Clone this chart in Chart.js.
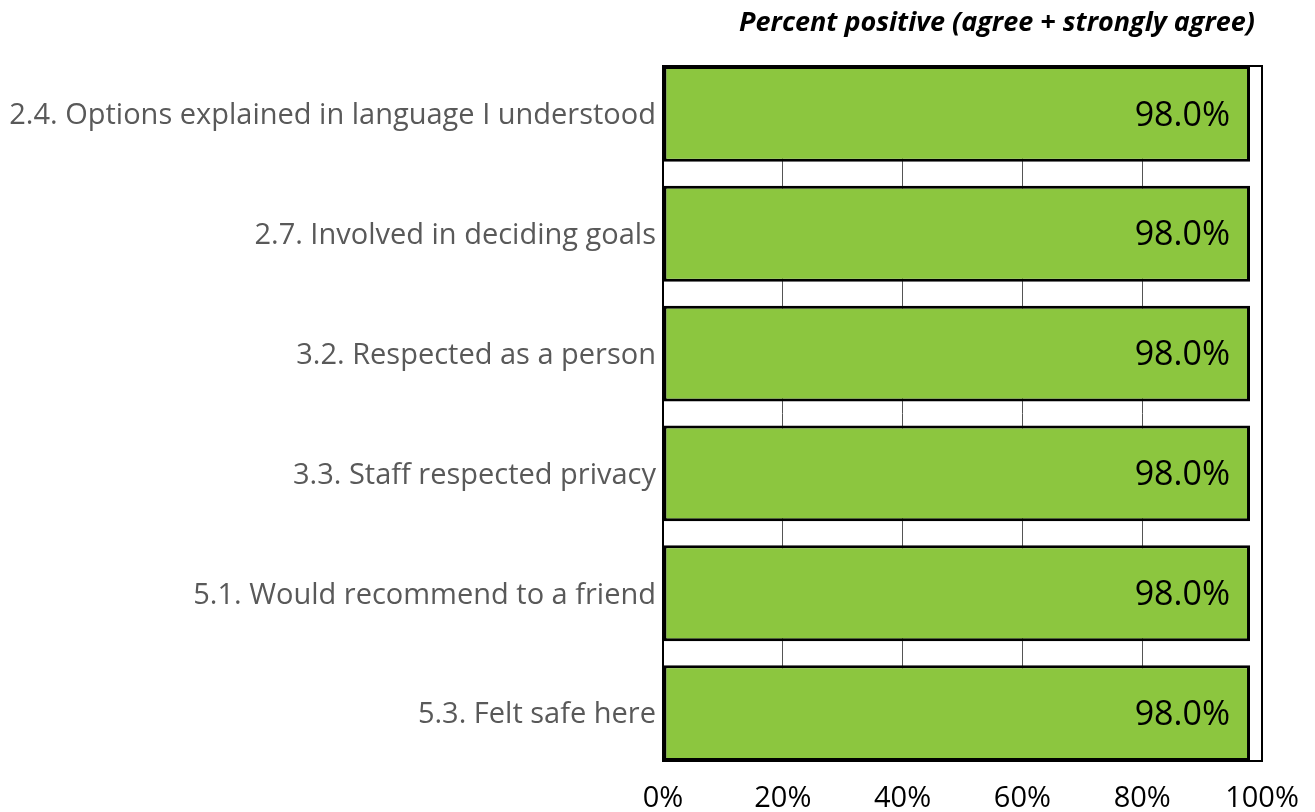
<!DOCTYPE html>
<html>
<head>
<meta charset="utf-8">
<script src="https://cdn.jsdelivr.net/npm/chart.js@4.4.1/dist/chart.umd.min.js"></script>
<style>
  html, body { margin: 0; padding: 0; background: #fff; }
  #wrap { width: 1315px; height: 812px; }
</style>
</head>
<body>
<div id="wrap"><canvas id="c" width="1315" height="812"></canvas></div>
<script>
const titleText = 'Percent positive (agree + strongly agree)';
const categories = [
  '2.4. Options explained in language I understood',
  '2.7. Involved in deciding goals',
  '3.2. Respected as a person',
  '3.3. Staff respected privacy',
  '5.1. Would recommend to a friend',
  '5.3. Felt safe here'
];
const percentPositive = [98.0, 98.0, 98.0, 98.0, 98.0, 98.0];
const xTicks = [0, 20, 40, 60, 80, 100];

const FONT = "'Open Sans', 'Noto Sans', sans-serif";

// Title, value labels and the plot frame
const decorations = {
  id: 'decorations',
  afterDatasetsDraw(chart) {
    const ctx = chart.ctx;
    const meta = chart.getDatasetMeta(0);
    ctx.save();
    ctx.font = `34px ${FONT}`;
    ctx.fillStyle = '#000';
    ctx.textAlign = 'right';
    ctx.textBaseline = 'middle';
    meta.data.forEach((bar, i) => {
      ctx.fillText(percentPositive[i].toFixed(1) + '%', bar.x - 20, bar.y + 2);
    });
    ctx.restore();
  },
  afterDraw(chart) {
    const ctx = chart.ctx;
    const a = chart.chartArea;
    ctx.save();
    ctx.strokeStyle = '#000';
    ctx.lineWidth = 2;
    ctx.strokeRect(a.left, a.top, a.right - a.left, a.bottom - a.top);
    ctx.font = `italic bold 27px ${FONT}`;
    ctx.fillStyle = '#000';
    ctx.textAlign = 'right';
    ctx.textBaseline = 'middle';
    ctx.fillText(titleText, 1255, 23);
    ctx.restore();
  }
};

new Chart(document.getElementById('c'), {
  type: 'bar',
  data: {
    datasets: [{
      data: percentPositive.map((v, i) => ({ x: v, y: i })),
      backgroundColor: '#8CC63F',
      borderColor: '#000',
      borderWidth: 3,
      borderSkipped: false,
      categoryPercentage: 0.8,
      barPercentage: 1.0
    }]
  },
  options: {
    indexAxis: 'y',
    responsive: false,
    animation: false,
    devicePixelRatio: 1,
    layout: { padding: { top: 66, right: 53, left: 0, bottom: 0 } },
    plugins: { legend: { display: false }, title: { display: false }, tooltip: { enabled: false } },
    scales: {
      x: {
        type: 'linear',
        min: 0, max: 100,
        afterBuildTicks(scale) { scale.ticks = xTicks.map(v => ({ value: v })); },
        afterFit(scale) {
          scale.height = 51;
          scale.paddingLeft = 0;
          scale.paddingRight = 0;
        },
        grid: { color: '#555', lineWidth: 1, drawTicks: false },
        border: { display: false },
        ticks: {
          padding: 20,
          color: '#000',
          font: { family: FONT, size: 29 },
          maxRotation: 0,
          callback: v => v + '%'
        }
      },
      y: {
        type: 'linear',
        reverse: true,
        offset: false,
        min: -0.4, max: 5.4,
        afterBuildTicks(scale) { scale.ticks = categories.map((_, i) => ({ value: i })); },
        afterFit(scale) { scale.width = 663; },
        grid: { display: false, drawTicks: false, offset: false },
        border: { display: false },
        ticks: {
          padding: 7,
          labelOffset: 2,
          color: '#595959',
          font: { family: FONT, size: 29 },
          callback: v => categories[v]
        }
      }
    }
  },
  plugins: [decorations]
});
</script>
</body>
</html>
